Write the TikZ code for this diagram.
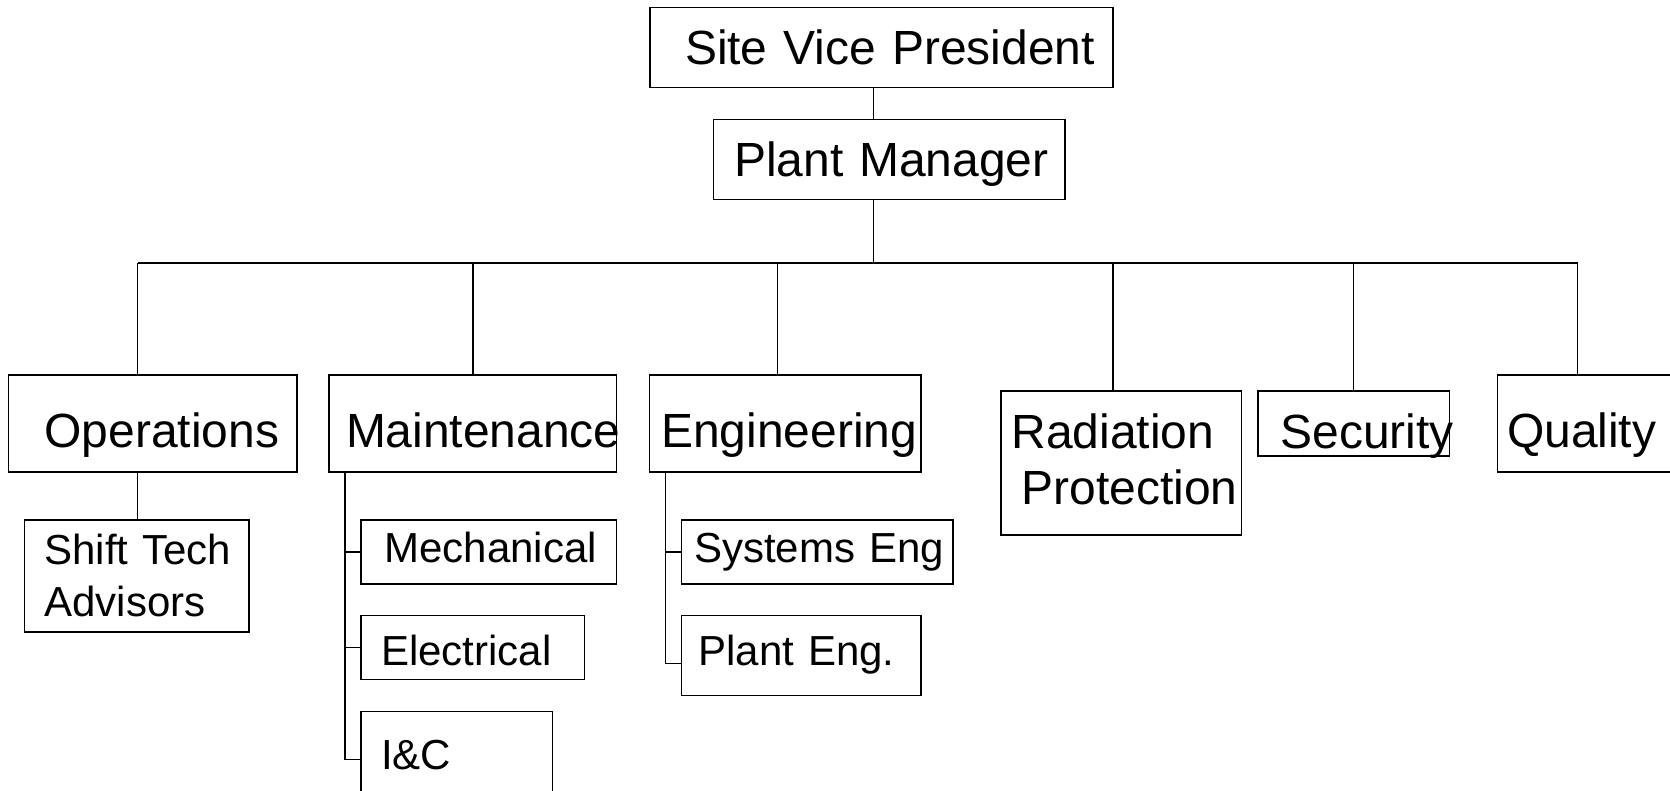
\documentclass[tikz,border=0pt]{standalone}
\usepackage{fontspec}
\setmainfont{Liberation Sans}
\usetikzlibrary{calc}
\hyphenpenalty=10000
\exhyphenpenalty=10000
\newcommand{\headfont}{\fontsize{27.3pt}{29.5pt}\selectfont}
\newcommand{\unitfont}{\fontsize{23.9pt}{29.5pt}\selectfont}

\begin{document}
\begin{tikzpicture}[
    orgbox/.style={draw, line width=0.85pt, anchor=north west, align=left, inner ysep=0pt, outer sep=0pt},
    execbox/.style={orgbox, font=\headfont, text height=24.6pt, text depth=4.9pt},
    deptbox/.style={orgbox, font=\headfont, text height=30pt, text depth=2.7pt},
    subbox/.style={orgbox, font=\unitfont, text height=20.3pt, text depth=8.8pt},
    link/.style={line width=0.85pt}
  ]
  \useasboundingbox (0,0) rectangle (33.4,15.82);
  \clip (0,0) rectangle (33.4,15.82);

  % Top of the chart
  \node[execbox, minimum height=1.6cm, inner xsep=0.70cm, text width=7.86cm] (svp) at (13.00,15.67) {Site~Vice~President};
  \node[execbox, minimum height=1.6cm, inner xsep=0.41cm, text width=6.21cm] (pm) at (14.27,13.43) {Plant~Manager};

  % Departments
  \node[deptbox, minimum height=1.94cm, inner xsep=0.72cm, text width=4.33cm] (ops) at (0.17,8.32) {Operations};
  \node[deptbox, minimum height=1.94cm, inner xsep=0.34cm, text width=5.07cm] (mnt) at (6.58,8.32) {Maintenance};
  \node[deptbox, minimum height=1.94cm, inner xsep=0.23cm, text width=4.97cm] (eng) at (12.99,8.32) {Engineering};
  \node[deptbox, minimum height=2.88cm, inner xsep=0.21cm, text width=4.39cm, text height=24.6pt, text depth=41.6pt] (rad) at (20.02,8.00) {Radiation\\[2.9pt]\hspace*{0.2cm}Protection};
  \node[deptbox, minimum height=1.30cm, inner xsep=0.45cm, text width=2.93cm, text height=30.5pt, text depth=2.3pt] (sec) at (25.16,8.00) {Security};
  \node[deptbox, minimum height=1.94cm, inner xsep=0.19cm, text width=3.72cm] (qua) at (29.95,8.32) {Quality};

  % Groups below the departments
  \node[subbox, minimum height=2.24cm, inner xsep=0.40cm, text width=3.69cm, text depth=33pt] (sta) at (0.49,5.42) {Shift~Tech\\Advisors};
  \node[subbox, minimum height=1.28cm, inner xsep=0.47cm, text width=4.17cm] (mech) at (7.22,5.42) {Mechanical};
  \node[subbox, minimum height=1.28cm, inner xsep=0.40cm, text width=3.67cm, text height=23.9pt, text depth=2.9pt] (elec) at (7.22,3.51) {Electrical};
  \node[subbox, minimum height=1.92cm, inner xsep=0.40cm, text width=3.03cm] (ic) at (7.22,1.59) {I\&C};
  \node[subbox, minimum height=1.28cm, inner xsep=0.25cm, text width=4.93cm] (syseng) at (13.63,5.42) {Systems~Eng};
  \node[subbox, minimum height=1.60cm, inner xsep=0.34cm, text width=4.11cm] (peng) at (13.63,3.51) {Plant~Eng.};

  % Bus and drop points
  \coordinate (hub) at (17.47,10.56);
  \coordinate (tOps) at (2.75,10.56);
  \coordinate (tMnt) at (9.46,10.56);
  \coordinate (tEng) at (15.55,10.56);
  \coordinate (tRad) at (22.26,10.56);
  \coordinate (tSec) at (27.07,10.56);
  \coordinate (tQua) at (31.55,10.56);
  \coordinate (mspine) at (6.90,0);
  \coordinate (espine) at (13.31,0);
  \coordinate (peTick) at ($(peng.north west)!0.6!(peng.south west)$);

  % Connectors
  \draw[link] (svp.south -| hub) -- (pm.north -| hub);
  \draw[link] (pm.south -| hub) -- (hub);
  \draw[link] (tOps) -- (tQua);
  \foreach \t/\n in {tOps/ops, tMnt/mnt, tEng/eng, tRad/rad, tSec/sec, tQua/qua}
    \draw[link] (\t) -- (\t |- \n.north);
  \draw[link] (ops.south -| tOps) -- (sta.north -| tOps);
  \draw[link] (mnt.south -| mspine) |- (ic.west);
  \draw[link] (mspine |- mech.west) -- (mech.west);
  \draw[link] (mspine |- elec.west) -- (elec.west);
  \draw[link] (eng.south -| espine) |- (peTick);
  \draw[link] (espine |- syseng.west) -- (syseng.west);
\end{tikzpicture}
\end{document}
